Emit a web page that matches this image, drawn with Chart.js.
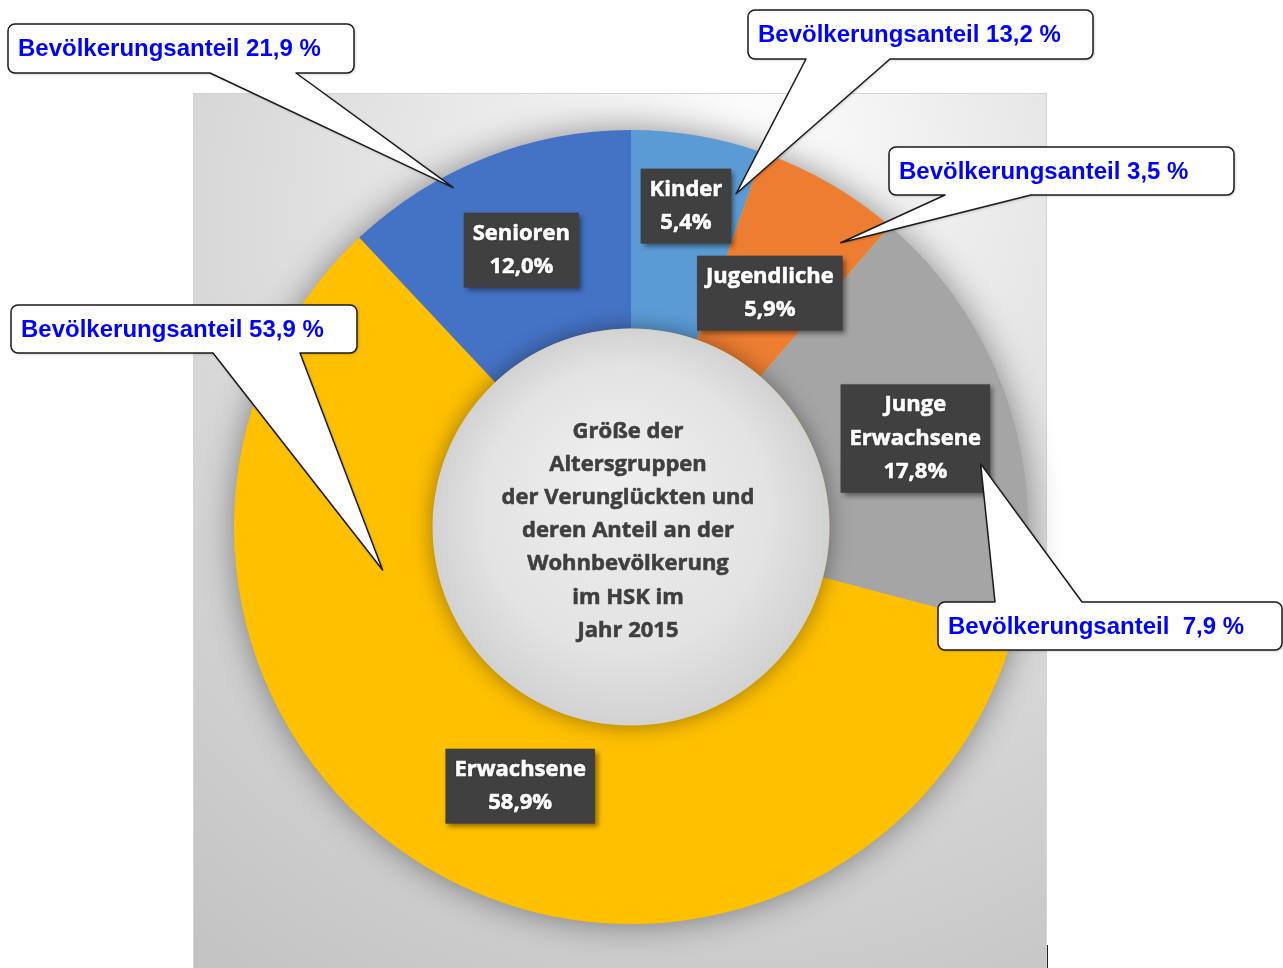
<!DOCTYPE html>
<html lang="de">
<head>
    <meta charset="UTF-8">
    <title>Altersgruppen der Verunglückten HSK 2015</title>
    <style>
        html, body { margin: 0; padding: 0; background: #ffffff; }
        #wrap { position: absolute; left: 0; top: 0; width: 1283px; height: 968px; }
    </style>
    <script src="https://cdn.jsdelivr.net/npm/chart.js@4.4.0/dist/chart.umd.min.js"></script>
</head>
<body>
<div id="wrap"><canvas id="donut" width="1283" height="968"></canvas></div>
<script>
    // data
    const categories = ['Kinder', 'Jugendliche', 'Junge Erwachsene', 'Erwachsene', 'Senioren'];
    const accidentShare = [5.4, 5.9, 17.8, 58.9, 12.0];      // Anteil an den Verunglückten
    const populationShare = ['13,2', '3,5', ' 7,9', '53,9', '21,9'];  // Bevölkerungsanteil
    const segmentColors = ['#5b9bd5', '#ed7d31', '#a5a5a5', '#ffc000', '#4472c4'];
    const centerTitle = ['Größe der', 'Altersgruppen', 'der Verunglückten und', 'deren Anteil an der',
        'Wohnbevölkerung', 'im HSK im', 'Jahr 2015'];

    // where the dark labels sit inside each arc (fraction of angle, fraction of ring width)
    const labelPlace = [
        { a: 0.5, r: 0.64 }, { a: 0.53, r: 0.37 }, { a: 0.5, r: 0.5 }, { a: 0.464, r: 0.42 }, { a: 0.5, r: 0.5 }
    ];
    // callout boxes (page px) and where their tails point into the arcs
    const callouts = [
        { box: [748, 10, 345, 49], side: 'bottom', base: [806, 890], tip: { a: 0.9, r: 0.76 } },
        { box: [889, 147, 345, 48], side: 'bottom', base: [945, 1031], tip: { a: 0.8, r: 0.78 } },
        { box: [938, 602, 344, 48], side: 'top', base: [995, 1082], tip: { a: 0.61, r: 0.79 } },
        { box: [11, 305, 346, 48], side: 'bottom', base: [213, 300], tip: { a: 0.733, r: 0.27 } },
        { box: [8, 24, 346, 49], side: 'bottom', base: [210, 296], tip: { a: 0.36, r: 0.93 } }
    ];

    function fmt(v) {
        return v.toFixed(1).replace('.', ',') + '%';
    }

    function arcPoint(arc, a, r) {
        const ang = arc.startAngle + (arc.endAngle - arc.startAngle) * a;
        const rad = arc.innerRadius + (arc.outerRadius - arc.innerRadius) * r;
        return { x: arc.x + Math.cos(ang) * rad, y: arc.y + Math.sin(ang) * rad };
    }

    // bold text with a hairline stroke so it reads as heavy as the original
    function heavyText(ctx, t, x, y, color) {
        ctx.fillStyle = color;
        ctx.fillText(t, x, y);
        ctx.shadowColor = 'transparent';
        ctx.lineWidth = 0.6;
        ctx.strokeStyle = color;
        ctx.strokeText(t, x, y);
    }

    const panelPlugin = {
        id: 'panel',
        beforeDraw(chart) {
            const ctx = chart.ctx;
            ctx.save();
            const g = ctx.createRadialGradient(760, 120, 20, 700, 300, 820);
            g.addColorStop(0, '#fbfbfb');
            g.addColorStop(0.45, '#e2e2e2');
            g.addColorStop(1, '#c3c3c3');
            ctx.fillStyle = g;
            ctx.fillRect(193, 93, 854, 880);
            ctx.strokeStyle = '#d4d4d4';
            ctx.lineWidth = 1;
            ctx.strokeRect(193.5, 93.5, 853, 880);
            ctx.strokeStyle = '#222';
            ctx.beginPath();
            ctx.moveTo(1047.5, 945);
            ctx.lineTo(1047.5, 968);
            ctx.stroke();
            ctx.restore();
        },
        beforeDatasetsDraw(chart) {
            // soft shadow under the whole ring
            const arc = chart.getDatasetMeta(0).data[0];
            const ctx = chart.ctx;
            ctx.save();
            ctx.shadowColor = 'rgba(0,0,0,0.45)';
            ctx.shadowBlur = 35;
            ctx.fillStyle = '#ffc000';
            ctx.beginPath();
            ctx.arc(arc.x, arc.y, arc.outerRadius - 1, 0, Math.PI * 2);
            ctx.fill();
            ctx.restore();
        },
        afterDatasetsDraw(chart) {
            const ctx = chart.ctx;
            const arcs = chart.getDatasetMeta(0).data;
            const a0 = arcs[0];

            // inner disc
            ctx.save();
            ctx.shadowColor = 'rgba(0,0,0,0.4)';
            ctx.shadowBlur = 22;
            const g = ctx.createRadialGradient(a0.x - 20, a0.y - 60, 10, a0.x, a0.y, a0.innerRadius);
            g.addColorStop(0, '#eeeeee');
            g.addColorStop(0.7, '#e3e3e3');
            g.addColorStop(1, '#d2d2d2');
            ctx.fillStyle = g;
            ctx.beginPath();
            ctx.arc(a0.x, a0.y, a0.innerRadius, 0, Math.PI * 2);
            ctx.fill();
            ctx.restore();

            // title in the hole
            ctx.save();
            ctx.font = '700 22px "Open Sans"';
            ctx.textAlign = 'center';
            ctx.textBaseline = 'middle';
            const lh = 33.2;
            const top = a0.y + 4 - lh * (centerTitle.length - 1) / 2;
            centerTitle.forEach((t, i) => {
                ctx.shadowColor = 'rgba(255,255,255,0.8)';
                ctx.shadowBlur = 2;
                heavyText(ctx, t, a0.x - 3, top + i * lh, '#3f3f3f');
            });
            ctx.restore();

            // dark value labels
            arcs.forEach((arc, i) => {
                const p = arcPoint(arc, labelPlace[i].a, labelPlace[i].r);
                const words = categories[i].split(' ');
                const lines = words.concat([fmt(accidentShare[i])]);
                ctx.save();
                ctx.font = '700 22px "Open Sans"';
                const w = Math.max(...lines.map(l => ctx.measureText(l).width)) + 18;
                const lh = 33.5;
                const h = lines.length * lh + 8;
                ctx.shadowColor = 'rgba(0,0,0,0.45)';
                ctx.shadowBlur = 5;
                ctx.shadowOffsetX = 3;
                ctx.shadowOffsetY = 3;
                ctx.fillStyle = '#404040';
                ctx.fillRect(p.x - w / 2, p.y - h / 2, w, h);
                ctx.shadowOffsetX = 0;
                ctx.shadowOffsetY = 0;
                ctx.textAlign = 'center';
                ctx.textBaseline = 'middle';
                lines.forEach((l, k) => {
                    ctx.shadowColor = 'rgba(0,0,0,0.7)';
                    ctx.shadowBlur = 2;
                    heavyText(ctx, l, p.x, p.y - (lines.length - 1) * lh / 2 + k * lh, '#ffffff');
                });
                ctx.restore();
            });

            // speech bubble callouts
            callouts.forEach((c, i) => {
                const tip = arcPoint(arcs[i], c.tip.a, c.tip.r);
                const [x, y, w, h] = c.box;
                const r = 7;
                ctx.save();
                ctx.beginPath();
                ctx.moveTo(x + r, y);
                if (c.side === 'top') {
                    ctx.lineTo(c.base[0], y);
                    ctx.lineTo(tip.x, tip.y);
                    ctx.lineTo(c.base[1], y);
                }
                ctx.lineTo(x + w - r, y);
                ctx.arcTo(x + w, y, x + w, y + r, r);
                ctx.lineTo(x + w, y + h - r);
                ctx.arcTo(x + w, y + h, x + w - r, y + h, r);
                if (c.side === 'bottom') {
                    ctx.lineTo(c.base[1], y + h);
                    ctx.lineTo(tip.x, tip.y);
                    ctx.lineTo(c.base[0], y + h);
                }
                ctx.lineTo(x + r, y + h);
                ctx.arcTo(x, y + h, x, y + h - r, r);
                ctx.lineTo(x, y + r);
                ctx.arcTo(x, y, x + r, y, r);
                ctx.closePath();
                ctx.shadowColor = 'rgba(0,0,0,0.25)';
                ctx.shadowBlur = 3;
                ctx.shadowOffsetX = 1;
                ctx.shadowOffsetY = 1;
                ctx.fillStyle = '#ffffff';
                ctx.fill();
                ctx.shadowColor = 'transparent';
                ctx.lineWidth = 1.5;
                ctx.strokeStyle = '#1a1a1a';
                ctx.lineJoin = 'round';
                ctx.stroke();
                ctx.font = 'bold 24px "Liberation Sans", Arial, sans-serif';
                ctx.fillStyle = '#0000ff';
                ctx.textAlign = 'left';
                ctx.textBaseline = 'middle';
                ctx.fillText('Bevölkerungsanteil ' + populationShare[i] + ' %', x + 10, y + h / 2 + 1);
                ctx.restore();
            });
        }
    };

    new Chart(document.getElementById('donut').getContext('2d'), {
        type: 'doughnut',
        data: {
            labels: categories,
            datasets: [{
                data: accidentShare,
                backgroundColor: segmentColors,
                borderWidth: 0
            }]
        },
        options: {
            responsive: false,
            animation: false,
            cutout: '50%',
            rotation: 0,
            layout: { padding: { left: 234, right: 255, top: 130, bottom: 44 } },
            plugins: {
                legend: { display: false },
                tooltip: { enabled: false }
            }
        },
        plugins: [panelPlugin]
    });
</script>
</body>
</html>
